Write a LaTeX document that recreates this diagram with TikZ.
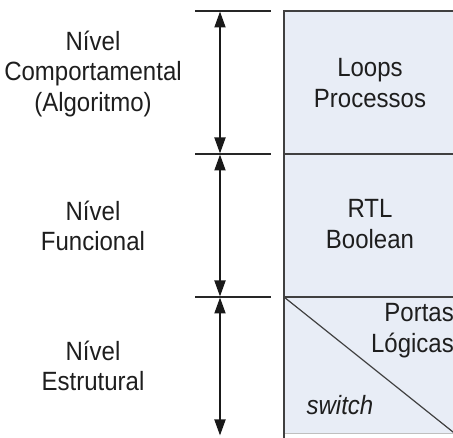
\documentclass[tikz,border=0pt]{standalone}
\usepackage{fontspec}
\setmainfont{Liberation Sans}
\usetikzlibrary{arrows.meta}
\definecolor{boxfill}{HTML}{E8EDF6}
\definecolor{txt}{HTML}{1E1E1E}
\begin{document}
\begin{tikzpicture}[x=1pt,y=-1pt,
  lbl/.style={font=\fontsize{24}{28}\selectfont, align=center, text=txt, inner sep=0pt, yscale=1.1, transform shape},
  tick/.style={line width=1.4pt, black!85},
  dim/.style={line width=1.8pt, black!90, {Triangle[length=16pt,width=11pt]}-{Triangle[length=16pt,width=11pt]}, shorten <=0.5pt, shorten >=0.5pt},
  lvlbox/.style={draw=black!75, line width=1.2pt, fill=boxfill}]
\useasboundingbox (0,0) rectangle (453,438);
\clip (0,0) rectangle (453,438);
% level boxes
\draw[lvlbox] (284,11) rectangle (470,154);
\draw[lvlbox] (284,154) rectangle (470,297);
\fill[boxfill] (284,297) rectangle (470,433);
\draw[black!25, line width=0.8pt] (284,433) -- (470,433);
\draw[black!75, line width=1.2pt] (470,297) -- (284,297) -- (284,440);
\coordinate (d1) at (284,297);
\coordinate (d2) at (458,436);
\draw[black!75, line width=1.2pt] (d1) -- (d2);
% ticks
\coordinate (t0) at (220,11);
\coordinate (t1) at (220,154);
\coordinate (t2) at (220,297);
\coordinate (t3) at (220,436);
\draw[tick] (195,11) -- (271,11);
\draw[tick] (195,154) -- (271,154);
\draw[tick] (195,297) -- (271,297);
\draw[dim] (t0) -- (t1);
\draw[dim] (t1) -- (t2);
\draw[dim] (t2) -- (t3);
% left labels
\node[lbl] (l1) at (93,74) {Nível\\Comportamental\\(Algoritmo)};
\node[lbl] (l2) at (93,226) {Nível\\Funcional};
\node[lbl] (l3) at (93,366) {Nível\\Estrutural};
% right labels
\node[lbl] (r1) at (370,83) {Loops\\Processos};
\node[lbl] (r2) at (370,224) {RTL\\Boolean};
\node[lbl, align=right, anchor=east] (r3) at (454,331) {Portas\\Lógicas};
\node[lbl, font=\fontsize{24}{28}\selectfont\itshape] (r4) at (340,405) {switch};
\end{tikzpicture}
\end{document}
